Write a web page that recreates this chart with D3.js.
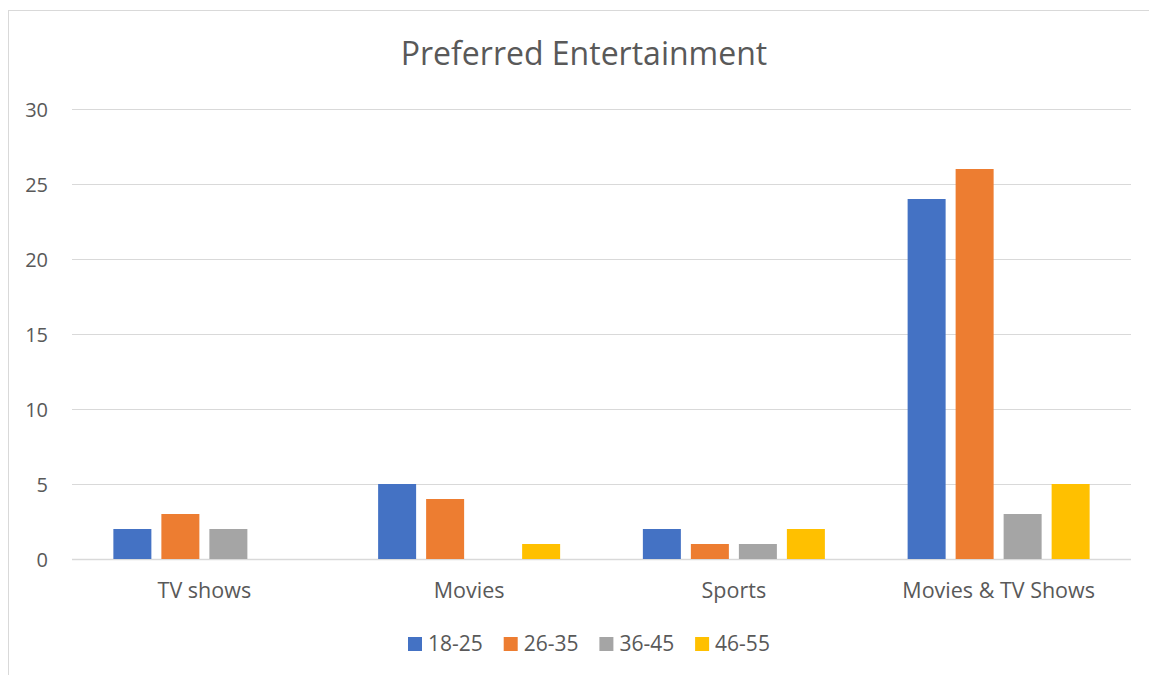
<!DOCTYPE html>
<html>
<head>
<meta charset="utf-8">
<script src="https://cdn.jsdelivr.net/npm/d3@7"></script>
<style>
  body { margin: 0; background: #fff; }
  text { font-family: "Open Sans", "Noto Sans", sans-serif; fill: #595959; }
</style>
</head>
<body>
<svg width="1149" height="675"></svg>
<script>
const categories = ["TV shows", "Movies", "Sports", "Movies & TV Shows"];
const seriesNames = ["18-25", "26-35", "36-45", "46-55"];
const seriesColors = ["#4472C4", "#ED7D31", "#A5A5A5", "#FFC000"];
const values = [
  [2, 5, 2, 24],   // 18-25
  [3, 4, 1, 26],   // 26-35
  [2, 0, 1, 3],    // 36-45
  [0, 1, 2, 5]     // 46-55
];
const yTicks = [0, 5, 10, 15, 20, 25, 30];

const svg = d3.select("svg");
const plot = { left: 72, right: 1131, top: 109, bottom: 559 };

// chart border
svg.append("rect")
  .attr("x", 8.5).attr("y", 10.5)
  .attr("width", 1200).attr("height", 700)
  .attr("fill", "none")
  .attr("stroke", "#d9d9d9");

const x0 = d3.scaleBand()
  .domain(categories)
  .range([plot.left, plot.right])
  .paddingInner(0.3125)
  .paddingOuter(0.15625);

const x1 = d3.scaleBand()
  .domain(seriesNames)
  .range([0, x0.bandwidth()])
  .paddingInner(10 / 48);

const y = d3.scaleLinear().domain([0, 30]).range([plot.bottom, plot.top]);

// gridlines
svg.append("g")
  .selectAll("line")
  .data(yTicks)
  .enter()
  .append("line")
  .attr("x1", plot.left).attr("x2", plot.right)
  .attr("y1", d => y(d) + 0.5).attr("y2", d => y(d) + 0.5)
  .attr("stroke", "#d9d9d9")
  .attr("stroke-width", d => d === 0 ? 1.5 : 1);

// y labels
svg.append("g")
  .selectAll("text")
  .data(yTicks)
  .enter()
  .append("text")
  .attr("x", 48)
  .attr("y", d => y(d) + 7.5)
  .attr("text-anchor", "end")
  .attr("font-size", 20)
  .text(d => d);

// bars
const groups = svg.append("g")
  .selectAll("g")
  .data(categories)
  .enter()
  .append("g")
  .attr("transform", d => `translate(${x0(d)},0)`);

groups.selectAll("rect")
  .data((c, ci) => seriesNames.map((s, si) => ({ s, si, v: values[si][ci] })))
  .enter()
  .filter(d => d.v > 0)
  .append("rect")
  .attr("x", d => x1(d.s))
  .attr("width", x1.bandwidth())
  .attr("y", d => y(d.v))
  .attr("height", d => y(0) - y(d.v))
  .attr("fill", d => seriesColors[d.si]);

// category labels
svg.append("g")
  .selectAll("text")
  .data(categories)
  .enter()
  .append("text")
  .attr("x", d => x0(d) + x0.bandwidth() / 2)
  .attr("y", 598)
  .attr("text-anchor", "middle")
  .attr("font-size", 21.5)
  .text(d => d);

// title
svg.append("text")
  .attr("x", 584)
  .attr("y", 65)
  .attr("text-anchor", "middle")
  .attr("font-size", 32)
  .text("Preferred Entertainment");

// legend
const legend = svg.append("g")
  .selectAll("g")
  .data(seriesNames)
  .enter()
  .append("g")
  .attr("transform", (d, i) => `translate(${408 + i * 95.7},637)`);

legend.append("rect")
  .attr("width", 14).attr("height", 14)
  .attr("fill", (d, i) => seriesColors[i]);

legend.append("text")
  .attr("x", 20)
  .attr("y", 14)
  .attr("font-size", 21)
  .text(d => d);
</script>
</body>
</html>
